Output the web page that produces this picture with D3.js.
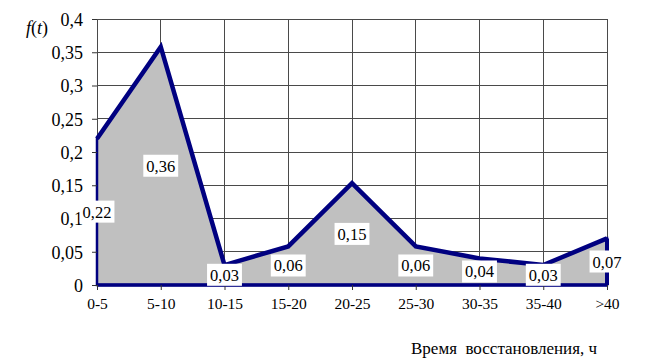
<!DOCTYPE html>
<html>
<head>
<meta charset="utf-8">
<script src="https://cdn.jsdelivr.net/npm/d3@7"></script>
<style>
  body { margin: 0; background: #fff; }
  svg text { font-family: "Liberation Serif", "Times New Roman", serif; fill: #000; }
</style>
</head>
<body>
<svg id="chart" width="665" height="364"></svg>
<script>
'use strict';

// Data
const categories = ['0-5', '5-10', '10-15', '15-20', '20-25', '25-30', '30-35', '35-40', '>40'];
const values = [0.22, 0.358, 0.03, 0.058, 0.153, 0.058, 0.04, 0.03, 0.07];
const valueLabels = ['0,22', '0,36', '0,03', '0,06', '0,15', '0,06', '0,04', '0,03', '0,07'];
const yTicks = [0, 0.05, 0.1, 0.15, 0.2, 0.25, 0.3, 0.35, 0.4];

const svg = d3.select('#chart');
const plot = { left: 97, right: 607, top: 19, bottom: 285 };

const x = d3.scalePoint().domain(categories).range([plot.left, plot.right]);
const y = d3.scaleLinear().domain([0, 0.4]).range([plot.bottom, plot.top]);
const comma = v => d3.format('~g')(+v.toFixed(2)).replace('.', ',');

const data = categories.map((c, i) => ({ cat: c, value: values[i], label: valueLabels[i] }));

// Grid
const grid = svg.append('g').attr('shape-rendering', 'crispEdges');
grid.selectAll('line.h')
  .data(yTicks.filter(d => d > 0))
  .join('line')
    .attr('x1', plot.left).attr('x2', plot.right)
    .attr('y1', d => y(d)).attr('y2', d => y(d))
    .attr('stroke', '#4a4a4a');
grid.selectAll('line.v')
  .data(categories)
  .join('line')
    .attr('x1', d => x(d)).attr('x2', d => x(d))
    .attr('y1', plot.top).attr('y2', plot.bottom)
    .attr('stroke', '#4a4a4a');

// Area
const area = d3.area().x(d => x(d.cat)).y0(y(0)).y1(d => y(d.value));
svg.append('path')
  .datum(data)
  .attr('d', area)
  .attr('fill', '#c0c0c0')
  .attr('stroke', '#000080')
  .attr('stroke-width', 2.5);

const line = d3.line().x(d => x(d.cat)).y(d => y(d.value));
svg.append('path')
  .datum(data)
  .attr('d', line)
  .attr('fill', 'none')
  .attr('stroke', '#000080')
  .attr('stroke-width', 4.5)
  .attr('stroke-linejoin', 'miter');

// Bottom and right border of the area, drawn thicker
svg.append('line')
  .attr('x1', plot.left).attr('x2', plot.right)
  .attr('y1', y(0)).attr('y2', y(0))
  .attr('stroke', '#000080').attr('stroke-width', 3.5);
svg.append('line')
  .attr('x1', plot.right).attr('x2', plot.right)
  .attr('y1', y(0)).attr('y2', y(values[values.length - 1]))
  .attr('stroke', '#000080').attr('stroke-width', 4);

// Axes
const yAxis = svg.append('g')
  .attr('transform', `translate(${plot.left},0)`)
  .call(d3.axisLeft(y).tickValues(yTicks).tickSize(5).tickPadding(9).tickFormat(comma))
  .attr('font-family', null);
yAxis.select('.domain').remove();
yAxis.selectAll('line').attr('stroke', '#333');
yAxis.selectAll('text').style('font-size', '18px').attr('dy', '0.35em');

const xAxis = svg.append('g')
  .attr('transform', `translate(0,${plot.bottom})`)
  .call(d3.axisBottom(x).tickSize(5).tickPadding(8))
  .attr('font-family', null);
xAxis.select('.domain').remove();
xAxis.selectAll('line').attr('stroke', '#333');
xAxis.selectAll('text').style('font-size', '15.5px');

// Value labels in white boxes, centred at half height
const labels = svg.append('g').selectAll('g')
  .data(data)
  .join('g')
    .attr('transform', d => `translate(${x(d.cat)},${y(d.value / 2)})`);
labels.append('text')
  .attr('text-anchor', 'middle')
  .attr('dy', '0.35em')
  .style('font-size', '16.5px')
  .text(d => d.label);
labels.each(function() {
  const g = d3.select(this);
  const bb = g.select('text').node().getBBox();
  g.insert('rect', 'text')
    .attr('x', bb.x - 3).attr('y', bb.y - 2)
    .attr('width', bb.width + 6).attr('height', bb.height + 3)
    .attr('fill', '#fff');
});

// Titles
svg.append('text')
  .attr('x', 26).attr('y', 34)
  .style('font-size', '18px')
  .html('<tspan font-style="italic">f</tspan>(<tspan font-style="italic">t</tspan>)');

svg.append('text')
  .attr('x', 411).attr('y', 354)
  .style('font-size', '17px')
  .attr('xml:space', 'preserve')
  .text('Время  восстановления, ч');
</script>
</body>
</html>
